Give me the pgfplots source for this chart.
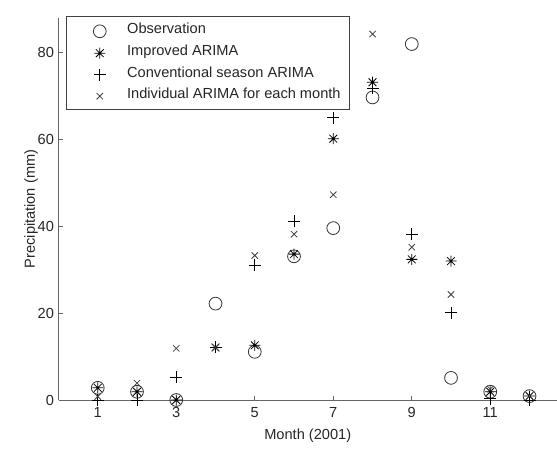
\documentclass[border=0pt]{standalone}
\usepackage{pgfplots}
\pgfplotsset{compat=1.18}
\usepackage{fontspec}
\setmainfont{Liberation Sans}
\pgfdeclareplotmark{mstar}{%
  \pgfpathmoveto{\pgfqpoint{-\pgfplotmarksize}{0pt}}%
  \pgfpathlineto{\pgfqpoint{\pgfplotmarksize}{0pt}}%
  \pgfpathmoveto{\pgfqpoint{0pt}{-\pgfplotmarksize}}%
  \pgfpathlineto{\pgfqpoint{0pt}{\pgfplotmarksize}}%
  \pgfpathmoveto{\pgfqpoint{-0.707\pgfplotmarksize}{-0.707\pgfplotmarksize}}%
  \pgfpathlineto{\pgfqpoint{0.707\pgfplotmarksize}{0.707\pgfplotmarksize}}%
  \pgfpathmoveto{\pgfqpoint{-0.707\pgfplotmarksize}{0.707\pgfplotmarksize}}%
  \pgfpathlineto{\pgfqpoint{0.707\pgfplotmarksize}{-0.707\pgfplotmarksize}}%
  \pgfusepathqstroke}
\begin{document}
\begin{tikzpicture}[x=1pt,y=1pt]
\useasboundingbox (0,0) rectangle (557,450);
\begin{axis}[
  at={(58.5pt,50pt)}, anchor=south west,
  scale only axis, width=498.5pt, height=382pt,
  xmin=0, xmax=12.7, ymin=0, ymax=88,
  axis lines*=left,
  axis line style={black!60, line width=1pt},
  tick align=inside,
  major tick length=4pt,
  tick style={black!60, line width=0.8pt},
  xtick={1,3,5,7,9,11},
  ytick={0,20,40,60,80},
  font=\fontsize{14.6}{17}\selectfont,
  /pgf/number format/assume math mode=true,
  ticklabel style={text=black!85},
  xticklabel style={yshift=-4pt},
  yticklabel style={xshift=-1pt},
  xlabel={Month (2001)},
  ylabel={Precipitation (mm)},
  x label style={at={(axis description cs:0.5,-0.094)}, anchor=center, text=black!85},
  y label style={at={(axis description cs:-0.0552,0.5)}, anchor=center, rotate=0, text=black!85},
  clip=false,
  legend cell align=left,
  legend image code/.code={\path (0pt,0pt) (35pt,0pt); \draw[#1] plot coordinates {(24pt,0pt)};},
  legend style={at={(rel axis cs:0.015,1.004)}, anchor=north west,
    draw=black!75, line width=0.8pt, inner xsep=9pt, inner ysep=8pt,
    nodes={inner sep=0pt, text height=8pt, text depth=3pt, text=black!85},
    row sep=10pt, column sep=16pt,
    font=\fontsize{14.6}{17}\selectfont},
]
\addplot[only marks, mark=o, mark size=6.4pt, black!80, line width=0.8pt] coordinates {
(1,2.8) (2,1.9) (3,0) (4,22.2) (5,11.1) (6,33.1) (7,39.6) (8,69.7) (9,82.0) (10,5.1) (11,1.9) (12,0.9)};
\addlegendentry{Observation}
\addplot[only marks, mark=mstar, mark size=5.5pt, black, line width=0.8pt] coordinates {
(1,2.8) (2,1.9) (3,0) (4,12.1) (5,12.6) (6,33.6) (7,60.2) (8,73.2) (9,32.4) (10,32.0) (11,1.9) (12,0.9)};
\addlegendentry{Improved ARIMA}
\addplot[only marks, mark=+, mark size=6pt, black, line width=0.8pt] coordinates {
(1,0) (2,0) (3,5.3) (4,12.1) (5,31.0) (6,41.2) (7,65.0) (8,71.8) (9,38.2) (10,20.1) (11,0.3) (12,0)};
\addlegendentry{Conventional season ARIMA}
\addplot[only marks, mark=x, mark size=4.5pt, black!75, line width=0.8pt] coordinates {
(1,0.8) (2,3.9) (3,11.9) (4,12.1) (5,33.3) (6,38.2) (7,47.3) (8,84.3) (9,35.2) (10,24.3) (11,2.5) (12,0.9)};
\addlegendentry{Individual ARIMA for each month}
\end{axis}
\end{tikzpicture}
\end{document}
